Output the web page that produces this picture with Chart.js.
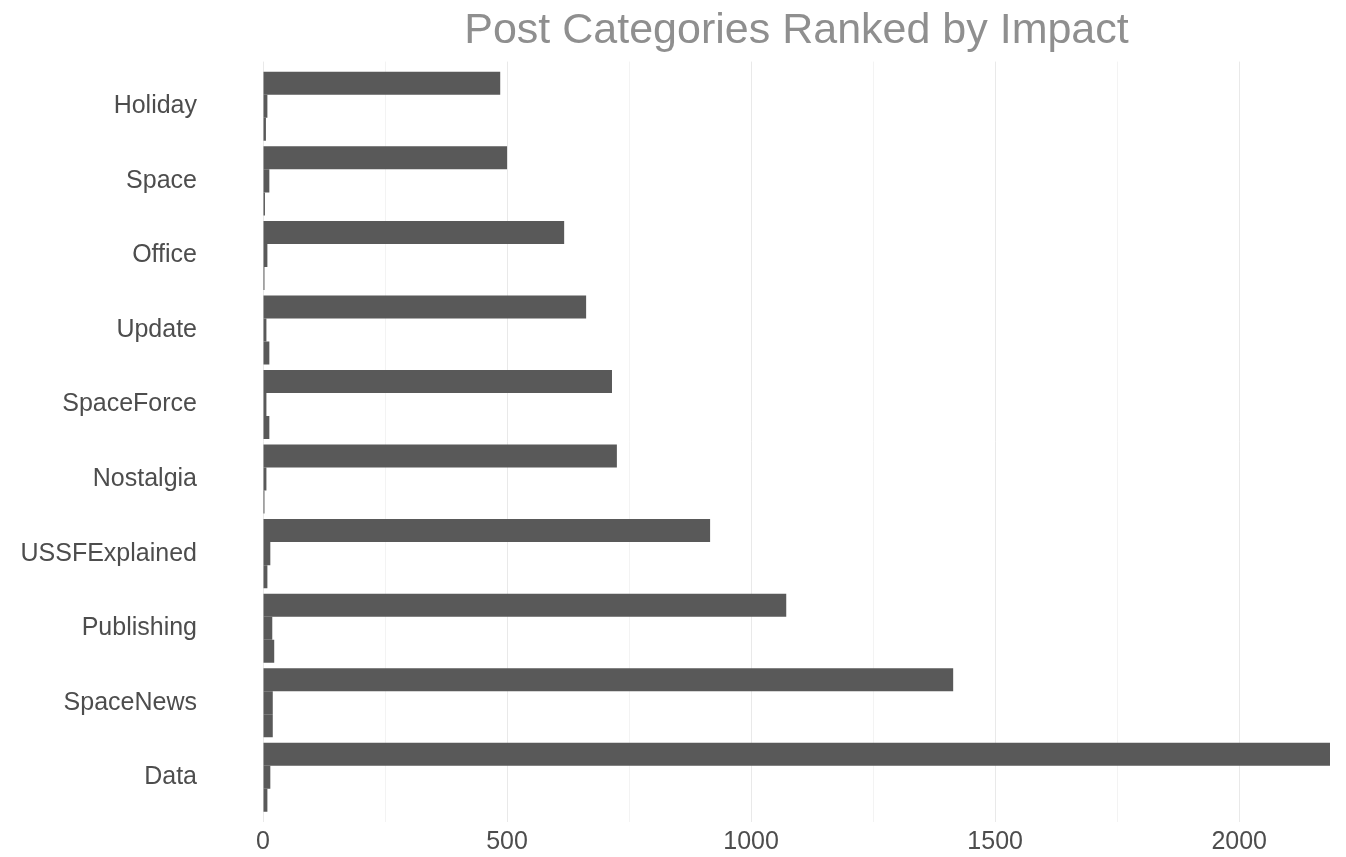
<!DOCTYPE html>
<html><head><meta charset="utf-8">
<script src="https://cdn.jsdelivr.net/npm/chart.js@4/dist/chart.umd.min.js"></script>
<style>html,body{margin:0;padding:0;background:#fff}#wrap{width:1346px;height:857px;position:relative}</style>
</head><body><div id="wrap"><canvas id="c"></canvas></div>
<script>
// Categories, top to bottom
const categories = ["Holiday","Space","Office","Update","SpaceForce","Nostalgia","USSFExplained","Publishing","SpaceNews","Data"];
// Series values
const impactValues = [486, 500, 617, 662, 715, 725, 916, 1072, 1414, 2186];
const secondValues = [9, 13, 9, 7, 7, 7, 15, 19, 20, 15];
const thirdValues  = [6, 4, 3, 13, 13, 3, 9, 23, 20, 9];
// Tick settings
const xTickStep = 250;
const xLabelStep = 500;
const xMax = 2186;

const n = categories.length;
const toPoints = arr => arr.map((v, i) => ({x: v, y: n - i}));
const barColor = '#595959';
const tickFont = {family: '"Liberation Sans", Arial, sans-serif', size: 25};

new Chart(document.getElementById('c'), {
  type: 'bar',
  data: {
    datasets: [
      {label: 'impact', data: toPoints(impactValues), backgroundColor: barColor},
      {label: 'second', data: toPoints(secondValues), backgroundColor: barColor},
      {label: 'third', data: toPoints(thirdValues), backgroundColor: barColor}
    ]
  },
  options: {
    indexAxis: 'y',
    responsive: true,
    maintainAspectRatio: false,
    animation: false,
    devicePixelRatio: 1,
    categoryPercentage: 0.926,
    barPercentage: 1,
    layout: {padding: {left: 0, right: 16, top: 0, bottom: 0}},
    plugins: {
      legend: {display: false},
      tooltip: {enabled: false},
      title: {
        display: true,
        text: 'Post Categories Ranked by Impact',
        fullSize: false,
        color: '#8f8f8f',
        font: {family: '"Liberation Sans", Arial, sans-serif', size: 43, weight: 'normal'},
        padding: {top: 5, bottom: 5}
      }
    },
    scales: {
      y: {
        type: 'linear',
        offset: false,
        min: 0.4,
        max: n + 0.6,
        grid: {display: true, drawOnChartArea: false, drawTicks: true, tickLength: 60, color: 'rgba(0,0,0,0)', offset: false},
        border: {display: false},
        afterBuildTicks: s => { s.ticks = categories.map((c, i) => ({value: n - i})); },
        afterFit: s => { s.width = 263; },
        ticks: {
          font: tickFont,
          color: '#4d4d4d',
          padding: 6,
          autoSkip: false,
          callback: v => categories[n - Math.round(v)]
        }
      },
      x: {
        type: 'linear',
        min: 0,
        max: xMax,
        border: {display: false},
        grid: {
          drawTicks: false,
          lineWidth: 1,
          color: ctx => (ctx.tick && ctx.tick.value % xLabelStep === 0) ? '#e9e9e9' : '#f3f3f3'
        },
        afterFit: s => { s.height = 35; },
        ticks: {
          stepSize: xTickStep,
          includeBounds: false,
          autoSkip: false,
          maxRotation: 0,
          font: tickFont,
          color: '#4d4d4d',
          padding: 5,
          callback: v => (v % xLabelStep === 0 ? String(v) : '')
        }
      }
    }
  }
});
</script>
</body></html>
